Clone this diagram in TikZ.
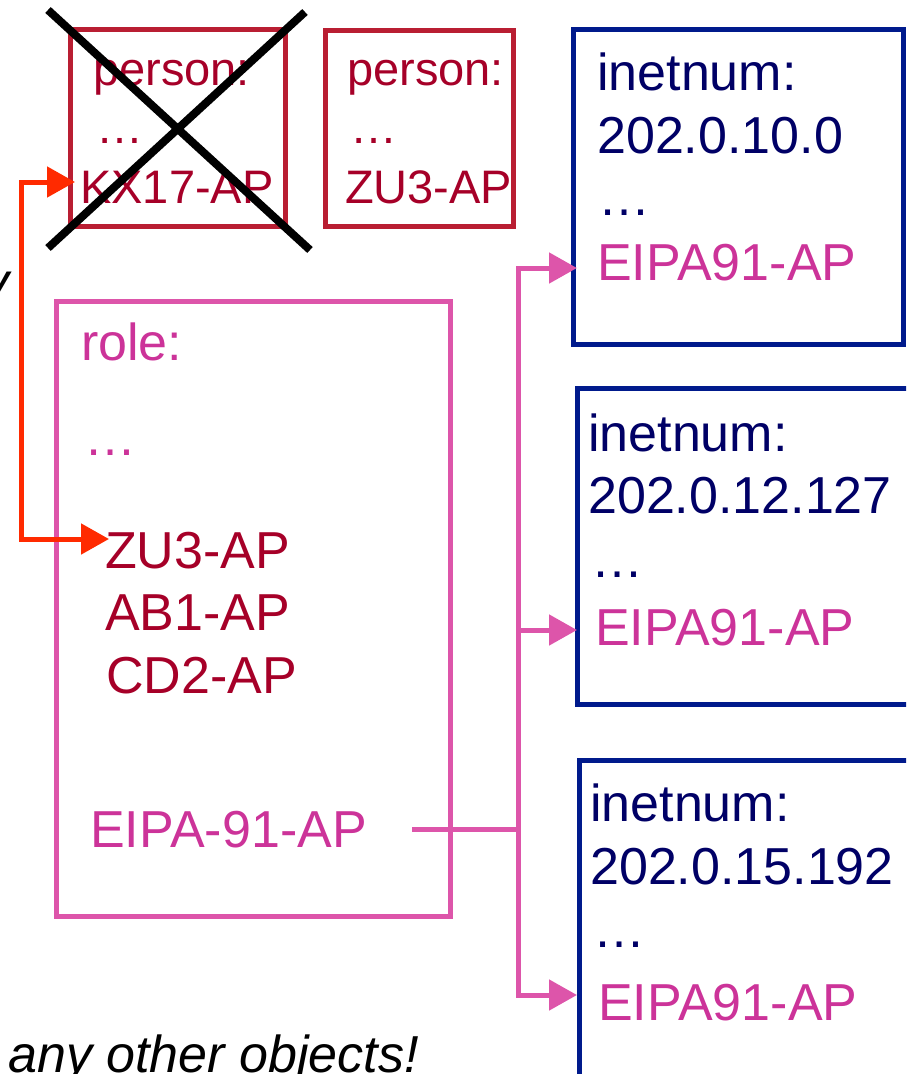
\documentclass[tikz,border=0pt]{standalone}
\usepackage{fontspec}
\setmainfont{Liberation Sans}
\usetikzlibrary{arrows.meta}
\definecolor{prbox}{RGB}{185,30,50}
\definecolor{prtext}{RGB}{166,0,40}
\definecolor{navybox}{RGB}{0,26,140}
\definecolor{navytext}{RGB}{0,0,102}
\definecolor{pinkline}{RGB}{221,85,170}
\definecolor{magtext}{RGB}{204,51,153}
\definecolor{redarrow}{RGB}{255,42,0}
\tikzset{bigtip/.tip={Triangle[length=28pt,width=30pt]}}
\begin{document}
\begin{tikzpicture}[x=1pt,y=-1pt,
  objbox/.style={draw, line width=5pt, inner sep=0pt, outer sep=0pt, anchor=north west},
  txt/.style={anchor=base west, inner sep=0pt, font=\fontsize{52}{60}\selectfont},
  smalltxt/.style={anchor=base west, inner sep=0pt, font=\fontsize{47}{56}\selectfont},
  itxt/.style={inner sep=0pt, font=\itshape\fontsize{52}{60}\selectfont},
  conn/.style={line width=5pt},
]
\useasboundingbox (0,0) rectangle (906,1074);
\clip (0,0) rectangle (906,1074);

% person box (deleted)
\node[objbox, prbox, minimum width=214.5pt, minimum height=196.5pt] (p1) at (70.5,29.5) {};
\node[smalltxt, prtext] (p1a) at (93,85) {person:};
\node[smalltxt, prtext] (p1b) at (96,143) {…};
\node[smalltxt, prtext] (p1c) at (80,203) {KX17-AP};
\draw[line width=8pt] (48,10) -- (310,250);
\draw[line width=8pt] (305,12) -- (48,248);

% person box 2
\node[objbox, prbox, minimum width=188pt, minimum height=196pt] (p2) at (325.5,30) {};
\node[smalltxt, prtext] (p2a) at (347,85) {person:};
\node[smalltxt, prtext] (p2b) at (350,143) {…};
\node[smalltxt, prtext] (p2c) at (345,203) {ZU3-AP};

% inetnum boxes
\node[objbox, navybox, minimum width=330pt, minimum height=315pt] (i1) at (573.5,29.5) {};
\node[txt, navytext] (i1a) at (597,90) {inetnum:};
\node[txt, navytext] (i1b) at (597,153) {202.0.10.0};
\node[txt, navytext] (i1c) at (598,215) {…};
\node[txt, magtext] (i1d) at (597,280) {EIPA91-AP};

\node[objbox, navybox, minimum width=360pt, minimum height=316pt] (i2) at (577.5,388.5) {};
\node[txt, navytext] (i2a) at (588,451) {inetnum:};
\node[txt, navytext] (i2b) at (588,513) {202.0.12.127};
\node[txt, navytext] (i2c) at (591,577) {…};
\node[txt, magtext] (i2d) at (595,645) {EIPA91-AP};

\node[objbox, navybox, minimum width=360pt, minimum height=360pt] (i3) at (579,760) {};
\node[txt, navytext] (i3a) at (590,821) {inetnum:};
\node[txt, navytext] (i3b) at (590,884) {202.0.15.192};
\node[txt, navytext] (i3c) at (593,947) {…};
\node[txt, magtext] (i3d) at (598,1020) {EIPA91-AP};

% role box
\node[objbox, pinkline, minimum width=394pt, minimum height=615pt] (r) at (56.5,301.5) {};
\node[txt, magtext] (ra) at (81,360) {role:};
\node[txt, magtext] (rb) at (84,455) {…};
\node[txt, prtext] (rc) at (105,568) {ZU3-AP};
\node[txt, prtext] (rd) at (105,630) {AB1-AP};
\node[txt, prtext] (re) at (106,693) {CD2-AP};
\node[txt, magtext] (rf) at (90,847) {EIPA-91-AP};

% red connector
\coordinate (kxin) at (75,182);
\coordinate (zuin) at (109,539);
\coordinate (rc1) at (21,182);
\coordinate (rc2) at (21,539);
\draw[conn, redarrow, bigtip-bigtip] (kxin) -- (rc1) -- (rc2) -- (zuin);

% pink connectors
\coordinate (eout) at (412,829);
\coordinate (tj) at (518,829);
\coordinate (tt) at (518,268);
\coordinate (tm) at (518,630);
\coordinate (tb) at (518,995);
\coordinate (in1) at (577,268);
\coordinate (in2) at (577,630);
\coordinate (in3) at (577,995);
\draw[conn, pinkline] (eout) -- (tj);
\draw[conn, pinkline, -bigtip] (tj) -- (tt) -- (in1);
\draw[conn, pinkline, -bigtip] (tj) -- (tb) -- (in3);
\draw[conn, pinkline, -bigtip] (tm) -- (in2);

% cut-off texts
\node[itxt, anchor=base west] (note) at (8,1072) {any other objects!};
\node[itxt, anchor=base east] (frag) at (10,299) {y};
\end{tikzpicture}
\end{document}
